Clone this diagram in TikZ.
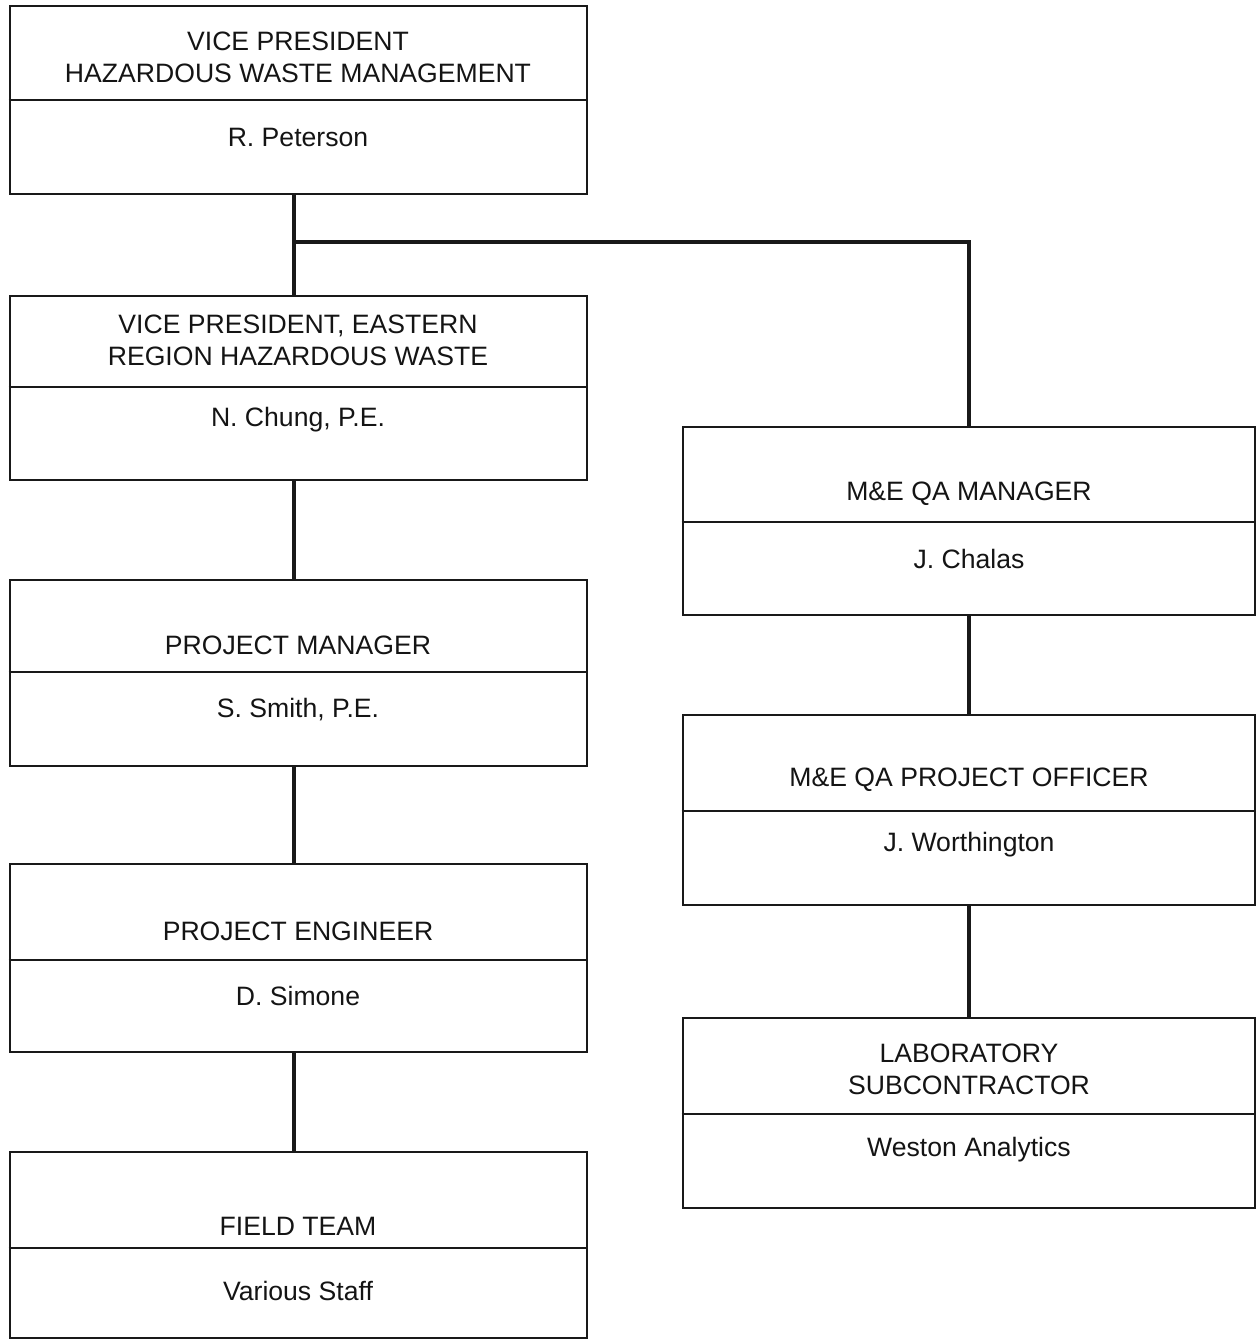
\documentclass[tikz,border=0pt]{standalone}
\usepackage{fontspec}
\setmainfont{Liberation Sans}
\begin{document}
\begin{tikzpicture}[x=1pt,y=-1pt,
  box/.style={draw=black!90, line width=2.6pt, rectangle, inner sep=0pt},
  divider/.style={draw=black!90, line width=2.4pt},
  conn/.style={draw=black!90, line width=4.2pt},
  lbl/.style={font=\fontsize{26.6}{32}\selectfont, align=center, inner sep=0pt, text=black!92}]
\useasboundingbox (0,0) rectangle (1257,1341);
% left column boxes
\node[box, minimum width=577pt, minimum height=188pt] (vp) at (298.5,100) {};
\node[box, minimum width=577pt, minimum height=184pt] (vpe) at (298.5,388) {};
\node[box, minimum width=577pt, minimum height=186pt] (pm) at (298.5,673) {};
\node[box, minimum width=577pt, minimum height=188pt] (pe) at (298.5,958) {};
\node[box, minimum width=577pt, minimum height=186pt] (ft) at (298.5,1245) {};
% right column boxes
\node[box, minimum width=572pt, minimum height=188pt] (qm) at (969,521) {};
\node[box, minimum width=572pt, minimum height=190pt] (qpo) at (969,810) {};
\node[box, minimum width=572pt, minimum height=190pt] (lab) at (969,1113) {};
% dividers
\draw[divider] (vp.west |- 0,100) -- (vp.east |- 0,100);
\draw[divider] (vpe.west |- 0,387) -- (vpe.east |- 0,387);
\draw[divider] (pm.west |- 0,672) -- (pm.east |- 0,672);
\draw[divider] (pe.west |- 0,960) -- (pe.east |- 0,960);
\draw[divider] (ft.west |- 0,1248) -- (ft.east |- 0,1248);
\draw[divider] (qm.west |- 0,522) -- (qm.east |- 0,522);
\draw[divider] (qpo.west |- 0,811) -- (qpo.east |- 0,811);
\draw[divider] (lab.west |- 0,1114) -- (lab.east |- 0,1114);
% labels
\node[lbl] (t1) at (298,57) {VICE PRESIDENT\\HAZARDOUS WASTE MANAGEMENT};
\node[lbl] (n1) at (298,137) {R. Peterson};
\node[lbl] (t2) at (298,340) {VICE PRESIDENT, EASTERN\\REGION HAZARDOUS WASTE};
\node[lbl] (n2) at (298,420) {N. Chung, P.E.};
\node[lbl] (t3) at (298,645) {PROJECT MANAGER};
\node[lbl] (n3) at (298,710) {S. Smith, P.E.};
\node[lbl] (t4) at (298,931) {PROJECT ENGINEER};
\node[lbl] (n4) at (298,996) {D. Simone};
\node[lbl] (t5) at (298,1226) {FIELD TEAM};
\node[lbl] (n5) at (298,1291) {Various Staff};
\node[lbl] (t6) at (969,494) {M\&E QA MANAGER};
\node[lbl] (n6) at (969,559) {J. Chalas};
\node[lbl] (t7) at (969,780) {M\&E QA PROJECT OFFICER};
\node[lbl] (n7) at (969,845) {J. Worthington};
\node[lbl] (t8) at (969,1069) {LABORATORY\\SUBCONTRACTOR};
\node[lbl] (n8) at (969,1150) {Weston Analytics};
% connectors
\coordinate (split) at (294,242);
\draw[conn] (vp.south -| split) -- (vpe.north -| split);
\draw[conn] (split) -| (qm.north);
\draw[conn] (vpe.south -| split) -- (pm.north -| split);
\draw[conn] (pm.south -| split) -- (pe.north -| split);
\draw[conn] (pe.south -| split) -- (ft.north -| split);
\draw[conn] (qm.south) -- (qpo.north);
\draw[conn] (qpo.south) -- (lab.north);
\end{tikzpicture}
\end{document}
